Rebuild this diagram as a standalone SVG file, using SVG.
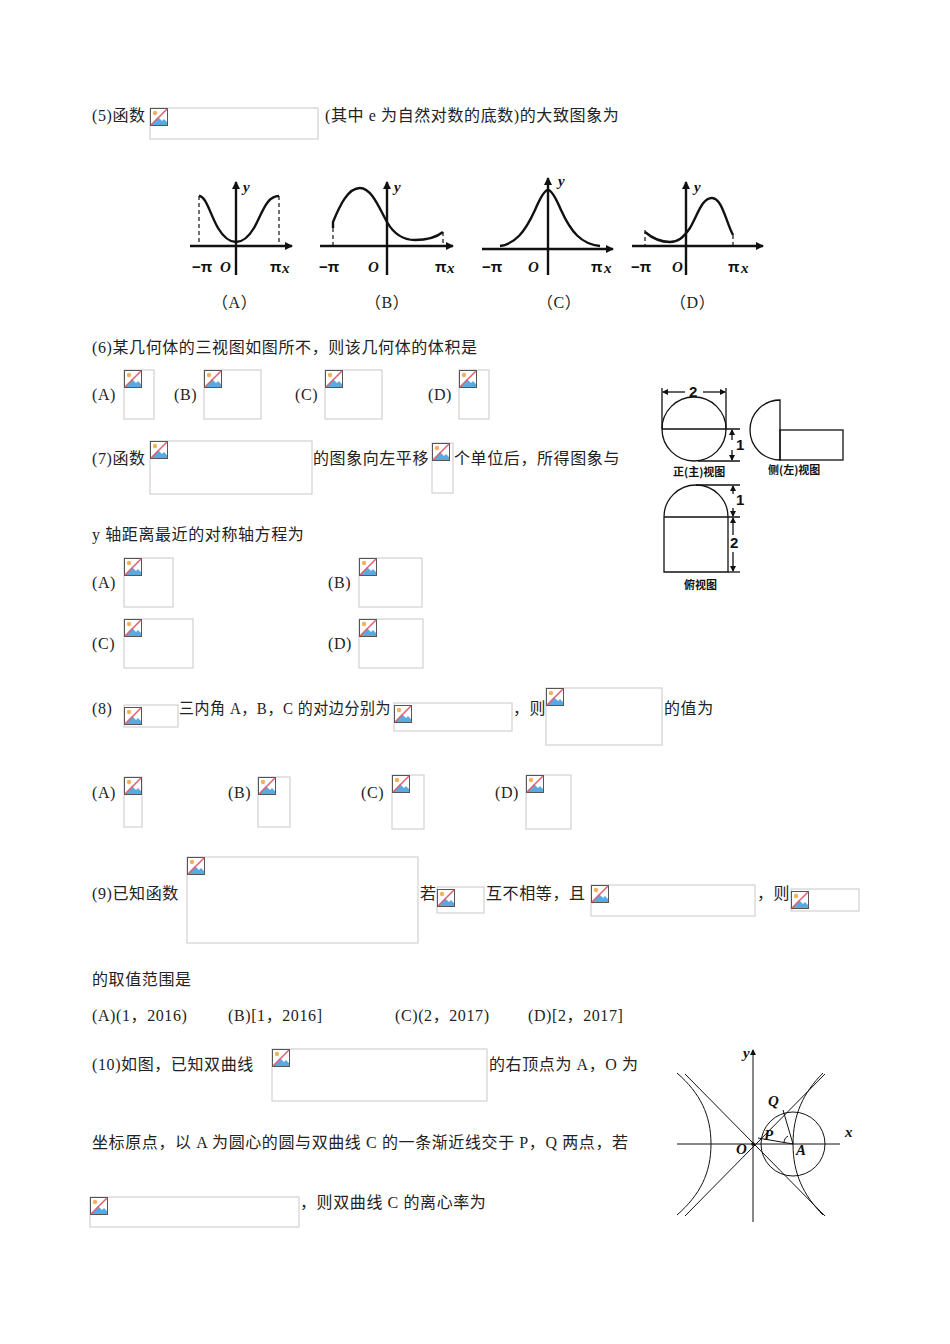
<svg xmlns="http://www.w3.org/2000/svg" width="950" height="1344" viewBox="0 0 950 1344">
<style>
.t{font-family:"Liberation Serif","Noto Sans CJK SC",serif;font-size:16px;letter-spacing:0.6px;fill:#222}
.g{font-family:"Liberation Sans",sans-serif;font-size:15px;font-weight:bold;fill:#111}
.gi{font-family:"Liberation Serif",serif;font-size:15px;font-weight:bold;font-style:italic;fill:#111}
.s{font-family:"Noto Sans CJK SC",sans-serif;font-size:11px;font-weight:bold;fill:#111}
.ph{fill:#fff;stroke:#c8c8c8;stroke-width:1}
.ln{fill:none;stroke:#111;stroke-width:1.3}
.cv{fill:none;stroke:#111;stroke-width:2.4}
.ax{fill:none;stroke:#111;stroke-width:2.4}
.da{fill:none;stroke:#111;stroke-width:1.2;stroke-dasharray:4 3}
</style>
<defs>
<g id="ic">
<rect x="0.5" y="0.5" width="17" height="17" fill="#fff" stroke="#555"/>
<path d="M1 17 L8 9 L12 13 L14 11 L17 14 L17 17 Z" fill="#5aa9e0"/>
<circle cx="5" cy="5" r="2.2" fill="#f2b25c"/>
<line x1="1" y1="17" x2="17" y2="1" stroke="#e06070" stroke-width="1.6"/>
</g>
<marker id="ah" markerWidth="8" markerHeight="8" refX="7" refY="4" orient="auto" markerUnits="userSpaceOnUse"><path d="M0 0L8 4L0 8Z" fill="#111"/></marker>
<marker id="sa" markerWidth="6" markerHeight="6" refX="5" refY="3" orient="auto" markerUnits="userSpaceOnUse"><path d="M0 0L6 3L0 6Z" fill="#111"/></marker>
</defs>

<g id="placeholders">
<rect class="ph" x="150" y="108" width="168" height="31"/><use href="#ic" x="150" y="108"/>
<rect class="ph" x="124" y="370" width="30" height="49"/><use href="#ic" x="124" y="370"/>
<rect class="ph" x="204" y="370" width="57" height="49"/><use href="#ic" x="204" y="370"/>
<rect class="ph" x="325" y="370" width="57" height="49"/><use href="#ic" x="325" y="370"/>
<rect class="ph" x="459" y="370" width="30" height="49"/><use href="#ic" x="459" y="370"/>
<rect class="ph" x="150" y="441" width="162" height="53"/><use href="#ic" x="150" y="441"/>
<rect class="ph" x="432" y="443" width="21" height="50"/><use href="#ic" x="432" y="443"/>
<rect class="ph" x="124" y="558" width="49" height="49"/><use href="#ic" x="124" y="558"/>
<rect class="ph" x="359" y="558" width="63" height="49"/><use href="#ic" x="359" y="558"/>
<rect class="ph" x="124" y="619" width="69" height="49"/><use href="#ic" x="124" y="619"/>
<rect class="ph" x="359" y="619" width="64" height="49"/><use href="#ic" x="359" y="619"/>
<rect class="ph" x="124" y="705" width="54" height="22"/><use href="#ic" x="124" y="707"/>
<rect class="ph" x="394" y="703" width="118" height="28"/><use href="#ic" x="394" y="705"/>
<rect class="ph" x="546" y="688" width="116" height="57"/><use href="#ic" x="546" y="688"/>
<rect class="ph" x="124" y="777" width="18" height="50"/><use href="#ic" x="124" y="777"/>
<rect class="ph" x="258" y="777" width="32" height="50"/><use href="#ic" x="258" y="777"/>
<rect class="ph" x="392" y="775" width="32" height="54"/><use href="#ic" x="392" y="775"/>
<rect class="ph" x="526" y="775" width="45" height="54"/><use href="#ic" x="526" y="775"/>
<rect class="ph" x="187" y="857" width="231" height="86"/><use href="#ic" x="187" y="857"/>
<rect class="ph" x="437" y="887" width="47" height="26"/><use href="#ic" x="437" y="889"/>
<rect class="ph" x="591" y="885" width="164" height="31"/><use href="#ic" x="591" y="885"/>
<rect class="ph" x="791" y="889" width="68" height="22"/><use href="#ic" x="791" y="891"/>
<rect class="ph" x="272" y="1049" width="215" height="52"/><use href="#ic" x="272" y="1049"/>
<rect class="ph" x="90" y="1197" width="209" height="30"/><use href="#ic" x="90" y="1197"/>
</g>

<g id="texts" class="t">
<text x="92" y="121">(5)函数</text>
<text x="325" y="121">(其中 e 为自然对数的底数)的大致图象为</text>
<text x="92" y="353">(6)某几何体的三视图如图所不，则该几何体的体积是</text>
<text x="92" y="400">(A)</text><text x="174" y="400">(B)</text><text x="295" y="400">(C)</text><text x="428" y="400">(D)</text>
<text x="92" y="464">(7)函数</text>
<text x="313" y="464" textLength="116" lengthAdjust="spacingAndGlyphs">的图象向左平移</text>
<text x="454" y="464">个单位后，所得图象与</text>
<text x="92" y="540">y 轴距离最近的对称轴方程为</text>
<text x="92" y="588">(A)</text><text x="328" y="588">(B)</text>
<text x="92" y="649">(C)</text><text x="328" y="649">(D)</text>
<text x="92" y="714">(8)</text>
<text x="179" y="714" textLength="212" lengthAdjust="spacingAndGlyphs">三内角 A，B，C 的对边分别为</text>
<text x="513" y="714">，则</text>
<text x="664" y="714">的值为</text>
<text x="92" y="798">(A)</text><text x="228" y="798">(B)</text><text x="361" y="798">(C)</text><text x="495" y="798">(D)</text>
<text x="92" y="899">(9)已知函数</text>
<text x="420" y="899">若</text>
<text x="486" y="899">互不相等，且</text>
<text x="757" y="899">，则</text>
<text x="92" y="985">的取值范围是</text>
<text x="92" y="1021">(A)(1，2016)</text>
<text x="228" y="1021">(B)[1，2016]</text>
<text x="395" y="1021">(C)(2，2017)</text>
<text x="528" y="1021">(D)[2，2017]</text>
<text x="92" y="1070">(10)如图，已知双曲线</text>
<text x="489" y="1070">的右顶点为 A，O 为</text>
<text x="92" y="1148">坐标原点，以 A 为圆心的圆与双曲线 C 的一条渐近线交于 P，Q 两点，若</text>
<text x="300" y="1208">，则双曲线 C 的离心率为</text>
</g>

<g id="graphA">
<line class="ax" x1="190" y1="246" x2="292" y2="246" marker-end="url(#ah)"/>
<line class="ax" x1="236" y1="275" x2="236" y2="182" marker-end="url(#ah)"/>
<line class="da" x1="199" y1="196" x2="199" y2="246"/><line class="da" x1="279" y1="196" x2="279" y2="246"/>
<path class="cv" d="M199 196 C206 196 210 214 218 228 C224 238 230 242 236 242 C242 242 248 238 254 228 C262 214 266 196 279 196"/>
<text class="gi" x="243" y="192">y</text>
<text class="g" x="192" y="272">−π</text><text class="gi" x="220" y="272">O</text><text class="g" x="270" y="272">π</text><text class="gi" x="282" y="273">x</text>
<text class="t" x="212" y="308">（A）</text>
</g>
<g id="graphB">
<line class="ax" x1="320" y1="246" x2="453" y2="246" marker-end="url(#ah)"/>
<line class="ax" x1="387" y1="275" x2="387" y2="182" marker-end="url(#ah)"/>
<line class="da" x1="333" y1="228" x2="333" y2="246"/><line class="da" x1="443" y1="232" x2="443" y2="246"/>
<path class="cv" d="M333 228 L333 222 C340 205 348 188 360 188 C372 188 380 210 387 222 C395 236 405 240 415 240 C430 240 438 236 443 232"/>
<text class="g" x="319" y="272">−π</text><text class="gi" x="368" y="272">O</text><text class="g" x="435" y="272">π</text><text class="gi" x="447" y="273">x</text>
<text class="gi" x="394" y="192">y</text>
<text class="t" x="365" y="308">（B）</text>
</g>
<g id="graphC">
<line class="ax" x1="482" y1="249" x2="613" y2="249" marker-end="url(#ah)"/>
<line class="ax" x1="548" y1="275" x2="548" y2="178" marker-end="url(#ah)"/>
<path class="cv" d="M500 246 C515 244 525 232 535 210 C541 196 545 190 548 190 C551 190 555 196 561 210 C571 232 581 244 600 246"/>
<text class="g" x="482" y="272">−π</text><text class="gi" x="528" y="272">O</text><text class="g" x="591" y="272">π</text><text class="gi" x="604" y="273">x</text>
<text class="gi" x="558" y="186">y</text>
<text class="t" x="537" y="308">（C）</text>
</g>
<g id="graphD">
<line class="ax" x1="632" y1="246" x2="763" y2="246" marker-end="url(#ah)"/>
<line class="ax" x1="686" y1="275" x2="686" y2="182" marker-end="url(#ah)"/>
<line class="da" x1="645" y1="230" x2="645" y2="246"/><line class="da" x1="733" y1="235" x2="733" y2="246"/>
<path class="cv" d="M645 232 C652 238 660 242 670 242 C678 242 683 238 690 228 C698 214 702 198 712 198 C722 198 726 222 733 235"/>
<text class="g" x="631" y="272">−π</text><text class="gi" x="672" y="272">O</text><text class="g" x="728" y="272">π</text><text class="gi" x="741" y="273">x</text>
<text class="gi" x="694" y="192">y</text>
<text class="t" x="670" y="308">（D）</text>
</g>

<g id="threeViews">
<circle class="ln" cx="694" cy="429" r="32"/>
<line class="ln" x1="662" y1="388" x2="662" y2="429"/><line class="ln" x1="726" y1="388" x2="726" y2="429"/>
<line class="ln" x1="685" y1="392" x2="663" y2="392" marker-end="url(#sa)"/><line class="ln" x1="703" y1="392" x2="725" y2="392" marker-end="url(#sa)"/>
<text class="g" x="689" y="397" font-size="13">2</text>
<line class="ln" x1="662" y1="429" x2="740" y2="429"/><line class="ln" x1="698" y1="461" x2="740" y2="461"/>
<line class="ln" x1="732" y1="440" x2="732" y2="430" marker-end="url(#sa)"/><line class="ln" x1="732" y1="450" x2="732" y2="460" marker-end="url(#sa)"/>
<text class="g" x="736" y="450" font-size="11">1</text>
<text class="s" x="673" y="476">正(主)视图</text>
<path class="ln" d="M780 400 A30 30 0 0 0 780 460 Z"/>
<rect class="ln" x="780" y="430" width="63" height="30"/>
<text class="s" x="768" y="474">侧(左)视图</text>
<path class="ln" d="M664 572 L664 517 A32 32 0 0 1 728 517 L728 572 Z"/>
<line class="ln" x1="664" y1="517" x2="740" y2="517"/>
<line class="ln" x1="696" y1="485" x2="740" y2="485"/><line class="ln" x1="728" y1="572" x2="740" y2="572"/>
<line class="ln" x1="733" y1="494" x2="733" y2="486" marker-end="url(#sa)"/><line class="ln" x1="733" y1="508" x2="733" y2="516" marker-end="url(#sa)"/>
<text class="g" x="736" y="505" font-size="11">1</text>
<line class="ln" x1="733" y1="535" x2="733" y2="518" marker-end="url(#sa)"/><line class="ln" x1="733" y1="552" x2="733" y2="571" marker-end="url(#sa)"/>
<text class="g" x="730" y="548" font-size="12">2</text>
<text class="s" x="684" y="589">俯视图</text>
</g>

<g id="hyperbola">
<line stroke="#111" stroke-width="1" x1="677" y1="1144" x2="840" y2="1144"/>
<line stroke="#111" stroke-width="1" x1="753" y1="1222" x2="753" y2="1050" marker-end="url(#sa)"/>
<line stroke="#111" stroke-width="1" x1="685" y1="1074" x2="825" y2="1216"/>
<line stroke="#111" stroke-width="1" x1="685" y1="1216" x2="825" y2="1074"/>
<path fill="none" stroke="#111" stroke-width="1" d="M823 1073 C803 1093 793 1115 793 1144 C793 1173 803 1195 823 1215"/>
<path fill="none" stroke="#111" stroke-width="1" d="M677 1073 C700 1093 711 1115 711 1144 C711 1173 700 1195 677 1215"/>
<circle fill="none" stroke="#111" stroke-width="1" cx="793" cy="1144" r="32"/>
<line stroke="#111" stroke-width="1" x1="793" y1="1144" x2="783" y2="1110"/>
<line stroke="#111" stroke-width="1" x1="793" y1="1144" x2="758" y2="1138"/>
<path fill="none" stroke="#111" stroke-width="1" d="M784 1143 A8 8 0 0 1 788 1136"/>
<circle cx="753" cy="1144" r="1.8" fill="#111"/>
<text class="gi" x="743" y="1058" font-size="10">y</text>
<text class="gi" x="845" y="1137" font-size="10">x</text>
<text class="gi" x="768" y="1106" font-size="11">Q</text>
<text class="gi" x="764" y="1140" font-size="11">P</text>
<text class="gi" x="796" y="1155" font-size="11">A</text>
<text class="gi" x="736" y="1154" font-size="11">O</text>
</g>
</svg>
